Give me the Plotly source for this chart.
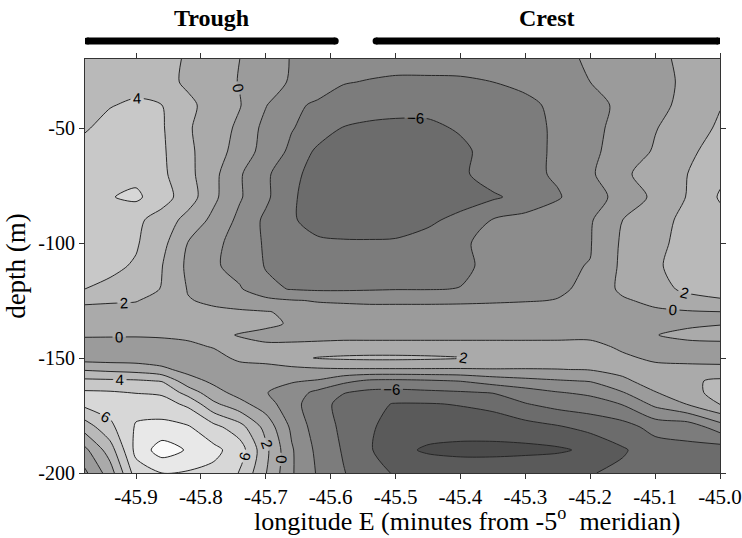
import plotly.graph_objects as go

# ---------------- data ----------------
lon = [-45.98, -45.94, -45.90, -45.86, -45.82, -45.78, -45.74, -45.70, -45.66, -45.62,
       -45.58, -45.54, -45.50, -45.45, -45.40, -45.35, -45.30, -45.25, -45.20, -45.15,
       -45.10, -45.05, -45.00]
depth = [-20, -30, -40, -50, -60, -70, -80, -90, -100, -110, -120, -125, -130, -135,
         -140, -145, -150, -155, -160, -165, -170, -180, -190, -200]

r020 = [3.0, 3.0, 3.0, 2.6, 1.8, 0.9, 0.0, -1.1, -2.1, -2.6, -3.0, -3.3, -3.5, -3.5, -3.4, -3.2, -2.9, -2.4, -1.8, -1.1, -0.3, 0.3, 1.2]
r030 = [3.2, 3.3, 3.3, 2.8, 1.6, 0.9, -0.1, -1.2, -2.2, -3.0, -3.9, -4.1, -4.2, -4.2, -4.2, -4.0, -3.5, -2.8, -2.0, -1.3, -0.5, 0.3, 1.3]
r040 = [3.5, 3.9, 4.3, 4.0, 2.5, 1.1, 0.1, -1.9, -3.6, -4.3, -4.8, -5.1, -5.3, -5.4, -5.2, -4.9, -4.5, -3.5, -2.6, -1.6, -0.6, 0.6, 1.9]
r050 = [3.8, 4.6, 5.0, 4.2, 2.2, 1.0, -0.4, -2.6, -3.9, -4.8, -6.1, -6.4, -6.5, -6.4, -5.8, -5.2, -4.6, -3.7, -2.5, -1.4, -0.1, 1.0, 2.3]
r060 = [4.6, 5.0, 5.2, 4.3, 2.4, 0.9, -0.8, -2.8, -4.4, -6.4, -6.7, -6.9, -7.0, -6.9, -6.4, -5.3, -4.6, -3.7, -2.4, -1.2, 0.2, 1.6, 2.8]
r070 = [5.0, 5.4, 5.4, 4.4, 2.6, 0.5, -1.8, -3.6, -5.6, -6.6, -7.0, -7.2, -7.3, -7.2, -6.4, -5.0, -4.6, -3.7, -2.3, -0.4, 1.0, 2.0, 3.6]
r080 = [5.3, 5.9, 6.4, 4.8, 3.0, 0.4, -1.8, -3.6, -5.8, -6.7, -7.1, -7.3, -7.4, -7.4, -7.0, -6.3, -5.3, -4.2, -2.6, -1.5, 0.5, 2.1, 4.2]
r090 = [4.8, 4.9, 4.4, 3.2, 1.3, -0.5, -2.5, -4.4, -5.8, -6.7, -7.0, -7.1, -7.2, -6.4, -5.4, -3.9, -3.4, -2.8, -2.2, 0.0, 1.3, 2.5, 3.4]
r100 = [4.6, 4.5, 4.2, 2.6, -0.05, -1.4, -3.0, -4.2, -5.6, -5.7, -5.8, -5.8, -5.7, -5.2, -4.1, -3.8, -3.2, -2.6, -2.1, 0.3, 1.4, 2.8, 3.6]
r110 = [4.5, 4.4, 3.8, 2.05, -0.4, -1.7, -2.8, -4.1, -4.7, -5.0, -5.1, -5.1, -5.0, -4.8, -4.4, -3.5, -2.8, -2.2, -1.95, 0.4, 1.8, 2.6, 3.4]
r120 = [4.05, 3.6, 3.0, 1.9, -0.1, -0.9, -1.8, -3.6, -4.1, -4.3, -4.3, -4.2, -4.1, -4.1, -3.95, -3.5, -2.8, -2.2, -1.7, 0.5, 1.5, 2.3, 2.8]
r125 = [2.3, 2.2, 2.1, 1.3, 0.1, -0.3, -0.7, -1.4, -1.9, -2.1, -2.2, -2.3, -2.3, -2.3, -2.3, -2.2, -2.1, -1.95, -1.6, -0.3, 0.6, 1.5, 1.8]
r130 = [1.5, 1.4, 1.3, 1.1, 0.8, 0.3, 0.2, 0.1, -0.3, -1.4, -1.4, -1.4, -1.4, -1.4, -1.3, -1.3, -1.2, -1.1, -1.0, -0.7, -0.4, -0.2, -0.05]
r135 = [1.0, 1.0, 0.9, 0.9, 0.8, 0.8, 0.6, 0.4, -0.2, -1.0, -1.0, -1.0, -1.0, -1.0, -1.0, -1.0, -1.0, -0.9, -0.8, -0.6, -0.5, -0.3, -0.1]
r140 = [0.2, 0.2, 0.2, 0.3, 0.3, 0.4, -0.1, -0.5, -0.8, -0.7, -0.6, -0.6, -0.6, -0.6, -0.6, -0.6, -0.6, -0.5, -0.4, -0.3, -0.05, 0.4, 0.6]
r145 = [-0.8, -0.9, -1.0, -0.9, -0.3, 0.1, 0.5, 0.3, 0.5, 0.6, 0.7, 0.7, 0.7, 0.7, 0.7, 0.7, 0.7, 0.6, 0.5, -0.3, -0.5, -0.5, -0.5]
r150 = [-0.9, -1.0, -1.0, -1.0, -0.9, -0.5, 0.3, 0.5, 1.5, 2.1, 2.3, 2.4, 2.4, 2.3, 2.1, 1.6, 1.3, 1.2, 1.0, 0.3, -0.3, -0.4, -0.5]
r155 = [1.8, 1.5, 1.2, 0.4, -0.6, -0.6, -0.6, -0.5, -0.5, -0.3, -0.2, -0.2, -0.2, -0.2, -0.2, -0.1, -0.1, -0.05, 0.1, 0.6, 0.5, 0.4, 0.4]
r160 = [4.5, 4.4, 4.3, 3.9, 0.8, -0.4, -1.2, -1.6, -1.8, -2.2, -3.5, -4.4, -4.5, -4.3, -3.95, -3.1, -2.6, -2.2, -1.9, -0.4, 0.9, 1.6, 2.4]
r165 = [6.3, 6.2, 5.9, 5.7, 3.2, 0.7, -0.7, -1.9, -3.0, -4.5, -5.9, -6.5, -6.6, -6.4, -6.2, -5.9, -4.9, -4.1, -3.6, -2.1, -0.1, 1.5, 2.5]
r170 = [6.5, 7.0, 7.3, 6.8, 5.6, 2.4, 0.6, -1.0, -3.4, -5.0, -6.8, -7.6, -8.1, -8.1, -7.9, -7.5, -6.1, -5.3, -4.9, -3.9, -1.5, 0.1, 2.1]
r180 = [2.8, 5.5, 8.2, 8.6, 8.2, 6.6, 4.8, 1.3, -2.4, -5.0, -6.4, -7.8, -8.6, -9.0, -9.0, -9.0, -8.8, -8.2, -7.4, -6.8, -5.3, -5.2, -3.0]
r190 = [-0.6, 3.0, 8.6, 11.0, 9.8, 8.5, 7.0, 2.5, -1.8, -4.5, -6.2, -7.8, -9.4, -10.3, -10.6, -10.6, -10.5, -10.3, -9.6, -8.2, -7.0, -6.5, -7.0]
r200 = [-2.5, 1.0, 7.0, 8.0, 7.8, 7.5, 5.9, 2.1, -1.8, -4.2, -5.9, -7.2, -8.2, -8.5, -8.6, -8.6, -8.4, -8.2, -8.1, -7.6, -7.0, -6.8, -7.0]

z_rows = [r020, r030, r040, r050, r060, r070, r080, r090, r100, r110, r120, r125,
          r130, r135, r140, r145, r150, r155, r160, r165, r170, r180, r190, r200]

# grey for each 2-unit band, from < -10 up to > 10
band_greys = [75, 90, 108, 124, 140, 155, 170, 185, 200, 215, 232, 250]

x_tickvals = [-45.9, -45.8, -45.7, -45.6, -45.5, -45.4, -45.3, -45.2, -45.1, -45.0]
x_ticktext = ["-45.9", "-45.8", "-45.7", "-45.6", "-45.5", "-45.4", "-45.3", "-45.2", "-45.1", "-45.0"]
y_tickvals = [-50, -100, -150, -200]
y_ticktext = ["-50", "-100", "-150", "-200"]

bar_names = ["Trough", "Crest"]
bar_start = [-45.975, -45.530]
bar_end = [-45.593, -45.003]

x_title = "longitude E (minutes from -5<sup>o</sup>  meridian)"
x_title_center = -45.39    # centre of the title, in longitude units
y_title = "depth (m)"

# ---------------- figure ----------------
n = len(band_greys) - 1
colorscale = [[i / n, f"rgb({g},{g},{g})"] for i, g in enumerate(band_greys)]
SMOOTH = 0.8

fig = go.Figure()
fig.add_trace(go.Contour(
    x=lon, y=depth, z=z_rows, colorscale=colorscale, showscale=False, showlegend=False,
    contours=dict(start=-10, end=10, size=2, coloring="fill", showlines=False),
    line=dict(width=0, smoothing=SMOOTH), hoverinfo="skip"))


def line_trace(start, end, size, labels):
    return go.Contour(
        x=lon, y=depth, z=z_rows, showscale=False, showlegend=False,
        contours=dict(start=start, end=end, size=size, coloring="none",
                      showlabels=labels, labelformat=".0f",
                      labelfont=dict(family="Liberation Sans", size=15, color="black")),
        line=dict(color="#262626", width=1, smoothing=SMOOTH), hoverinfo="skip")


fig.add_trace(line_trace(-10, -8, 2, False))
fig.add_trace(line_trace(-4, -2, 2, False))
fig.add_trace(line_trace(8, 10, 2, False))
fig.add_trace(line_trace(-6, 6, 6, True))
fig.add_trace(line_trace(2, 4, 2, True))

BAR_Y = 1.0435
for name, s, e in zip(bar_names, bar_start, bar_end):
    fig.add_shape(type="line", xref="x", yref="paper", x0=s, x1=e, y0=BAR_Y, y1=BAR_Y,
                  line=dict(color="black", width=7))
    for xe in (s, e):
        fig.add_shape(type="circle", xref="x", yref="paper",
                      x0=xe - 0.0054, x1=xe + 0.0054, y0=BAR_Y - 0.0085, y1=BAR_Y + 0.0085,
                      fillcolor="black", line=dict(width=0))
    fig.add_annotation(x=(s + e) / 2, y=1.099, xref="x", yref="paper", text=f"<b>{name}</b>",
                       showarrow=False, font=dict(family="Liberation Serif", size=24, color="black"),
                       yanchor="middle")

fig.add_annotation(x=x_title_center, y=-0.113, xref="x", yref="paper", text=x_title,
                   showarrow=False, yanchor="middle",
                   font=dict(family="Liberation Serif", size=26, color="black"))

axis_common = dict(ticks="outside", ticklen=5, tickcolor="#333", showline=True, linecolor="#333",
                   linewidth=1, mirror="ticks", showgrid=False, zeroline=False,
                   ticklabeloverflow="allow", automargin=False)

fig.update_layout(
    width=742, height=538, margin=dict(l=85, r=22, t=59, b=65, autoexpand=False),
    paper_bgcolor="white", plot_bgcolor="white", showlegend=False,
    font=dict(family="Liberation Serif", color="black"),
    xaxis=dict(range=[-45.9786, -45.0], tickvals=x_tickvals, ticktext=x_ticktext,
               tickfont=dict(size=21), **axis_common),
    yaxis=dict(range=[-200, -20], tickvals=y_tickvals, ticktext=y_ticktext,
               tickfont=dict(size=20),
               title=dict(text=y_title, font=dict(size=27), standoff=4),
               **axis_common),
)

fig.write_html("out.html")
